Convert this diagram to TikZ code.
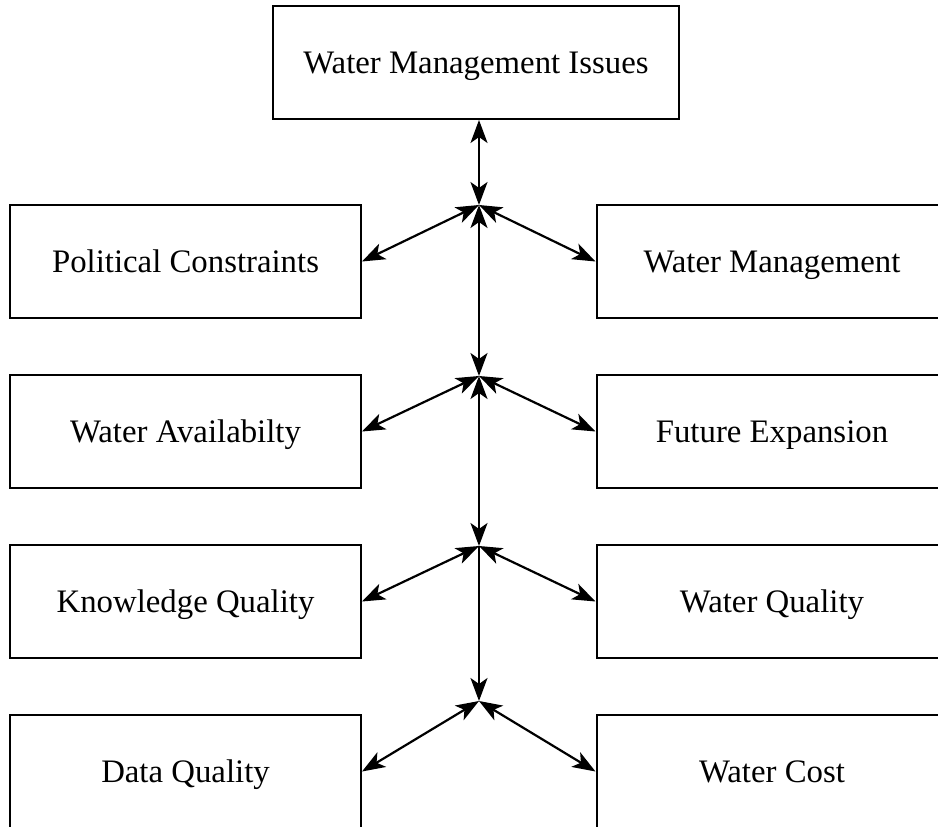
\documentclass[tikz,border=0pt]{standalone}
\usepackage{fontspec}
\setmainfont{Liberation Serif}
\usetikzlibrary{arrows.meta}
\begin{document}
\begin{tikzpicture}[x=1pt,y=-1pt,
  box/.style={draw=black, line width=2pt, inner sep=0pt, text height=21.5pt, text depth=0pt,
    font=\fontsize{32.8}{38}\selectfont},
  sidebox/.style={box, minimum width=351pt, minimum height=113pt},
  conn/.style={line width=2.2pt, {Stealth[length=23pt,width=17pt,inset=6pt]}-{Stealth[length=23pt,width=17pt,inset=6pt]}},
  oneway/.style={line width=2.2pt, -{Stealth[length=23pt,width=17pt,inset=6pt]}}]
\useasboundingbox (0,0) rectangle (938,827);
\clip (0,0) rectangle (938,827);
\node[box, minimum width=406pt, minimum height=113pt] (top) at (476,62.5) {Water Management Issues};
\node[sidebox] (l1) at (185.5,261.5) {Political Constraints};
\node[sidebox] (r1) at (772,261.5) {Water Management};
\node[sidebox] (l2) at (185.5,431.5) {Water Availabilty};
\node[sidebox] (r2) at (772,431.5) {Future Expansion};
\node[sidebox] (l3) at (185.5,601.5) {Knowledge Quality};
\node[sidebox] (r3) at (772,601.5) {Water Quality};
\node[sidebox] (l4) at (185.5,771.5) {Data Quality};
\node[sidebox] (r4) at (772,771.5) {Water Cost};
\coordinate (j1) at (479,205);
\coordinate (j2) at (479,376);
\coordinate (j3) at (479,546);
\coordinate (j4) at (479,701);
\coordinate (tb) at (top.south -| j1);
\draw[conn] (tb) -- (j1);
\draw[conn] (j1) -- (j2);
\draw[conn] (j2) -- (j3);
\draw[oneway] (j3) -- (j4);
\draw[conn] (j1) -- (l1.east);
\draw[conn] (j1) -- (r1.west);
\draw[conn] (j2) -- (l2.east);
\draw[conn] (j2) -- (r2.west);
\draw[conn] (j3) -- (l3.east);
\draw[conn] (j3) -- (r3.west);
\draw[conn] (j4) -- (l4.east);
\draw[conn] (j4) -- (r4.west);
\end{tikzpicture}
\end{document}
